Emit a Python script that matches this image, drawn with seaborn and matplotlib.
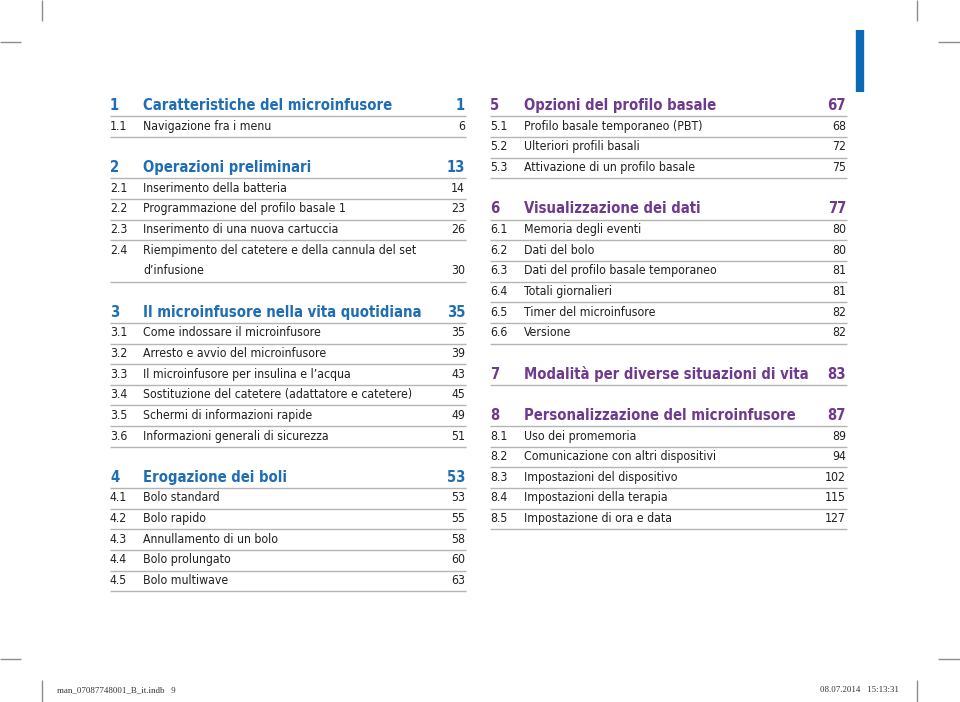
import matplotlib
matplotlib.use("Agg")
import matplotlib.pyplot as plt
import seaborn as sns

# Indice - colonna sinistra ("" = riga vuota)
left_nums = ["1", "1.1", "", "2", "2.1", "2.2", "2.3", "2.4", "", "",
             "3", "3.1", "3.2", "3.3", "3.4", "3.5", "3.6", "",
             "4", "4.1", "4.2", "4.3", "4.4", "4.5"]
left_titles = ["Caratteristiche del microinfusore", "Navigazione fra i menu", "",
               "Operazioni preliminari", "Inserimento della batteria",
               "Programmazione del profilo basale 1", "Inserimento di una nuova cartuccia",
               "Riempimento del catetere e della cannula del set", "d\u2019infusione", "",
               "Il microinfusore nella vita quotidiana", "Come indossare il microinfusore",
               "Arresto e avvio del microinfusore", "Il microinfusore per insulina e l\u2019acqua",
               "Sostituzione del catetere (adattatore e catetere)",
               "Schermi di informazioni rapide", "Informazioni generali di sicurezza", "",
               "Erogazione dei boli", "Bolo standard", "Bolo rapido",
               "Annullamento di un bolo", "Bolo prolungato", "Bolo multiwave"]
left_pages = ["1", "6", "", "13", "14", "23", "26", "", "30", "",
              "35", "35", "39", "43", "45", "49", "51", "",
              "53", "53", "55", "58", "60", "63"]

# Indice - colonna destra
right_nums = ["5", "5.1", "5.2", "5.3", "", "6", "6.1", "6.2", "6.3", "6.4", "6.5", "6.6", "",
              "7", "", "8", "8.1", "8.2", "8.3", "8.4", "8.5"]
right_titles = ["Opzioni del profilo basale", "Profilo basale temporaneo (PBT)",
                "Ulteriori profili basali", "Attivazione di un profilo basale", "",
                "Visualizzazione dei dati", "Memoria degli eventi", "Dati del bolo",
                "Dati del profilo basale temporaneo", "Totali giornalieri",
                "Timer del microinfusore", "Versione", "",
                "Modalità per diverse situazioni di vita", "",
                "Personalizzazione del microinfusore", "Uso dei promemoria",
                "Comunicazione con altri dispositivi", "Impostazioni del dispositivo",
                "Impostazioni della terapia", "Impostazione di ora e data"]
right_pages = ["67", "68", "72", "75", "", "77", "80", "80", "81", "81", "82", "82", "",
               "83", "", "87", "89", "94", "102", "115", "127"]

footer_left = "man_07087748001_B_it.indb   9"
footer_right = "08.07.2014   15:13:31"

BLUE = "#1f6db3"
PURPLE = "#6e3a8e"
TEXT = "#231f20"
RULE = "#b4b4b4"

sns.set_theme(style="white")
plt.rcParams["font.family"] = ["DejaVu Sans"]

fig = plt.figure(figsize=(9.6, 7.02), dpi=100)
ax = fig.add_axes([0, 0, 1, 1])
pitch = 20.65
ax.set_xlim(0, 960)
ax.set_ylim((702 - 105) / pitch, -105 / pitch)
ax.axis("off")


def draw_column(nums, titles, pages, x_num, x_title, x_right, color):
    for i, (n, t, p) in enumerate(zip(nums, titles, pages)):
        if not (n or t):
            continue
        header = "." not in n and n != ""
        kw = dict(va="center", color=color if header else TEXT,
                  fontsize=10.6 if header else 8.8,
                  fontweight="bold" if header else "normal",
                  fontstretch="condensed")
        ax.text(x_num, i + 0.03, n, ha="left", **kw)
        ax.text(x_title, i + 0.03, t, ha="left", **kw)
        ax.text(x_right, i + 0.03, p, ha="right", **kw)
        if p:
            ax.hlines(i + 0.55, x_num, x_right + 1, color=RULE, lw=1.0)


draw_column(left_nums, left_titles, left_pages, 110, 143, 465, BLUE)
draw_column(right_nums, right_titles, right_pages, 490, 524, 846, PURPLE)

# linguetta blu
ax.vlines(859.5, (30 - 105) / pitch, (92 - 105) / pitch, color="#0a6ab8", lw=6)

# segni di taglio
crop = dict(color="#8c8c8c", lw=1.0)
for x in (42, 917):
    ax.vlines(x, -105 / pitch, (21 - 105) / pitch, **crop)
    ax.vlines(x, (680 - 105) / pitch, (702 - 105) / pitch, **crop)
for y in (42, 659):
    ax.hlines((y - 105) / pitch, 0, 21, **crop)
    ax.hlines((y - 105) / pitch, 938, 960, **crop)

ax.text(57, (690 - 105) / pitch, footer_left, ha="left", va="center",
        fontsize=6.4, family="Liberation Serif", color="#333333")
ax.text(899, (690 - 105) / pitch, footer_right, ha="right", va="center",
        fontsize=6.4, family="Liberation Serif", color="#333333")

fig.savefig("out.png", dpi=100, facecolor="white")
